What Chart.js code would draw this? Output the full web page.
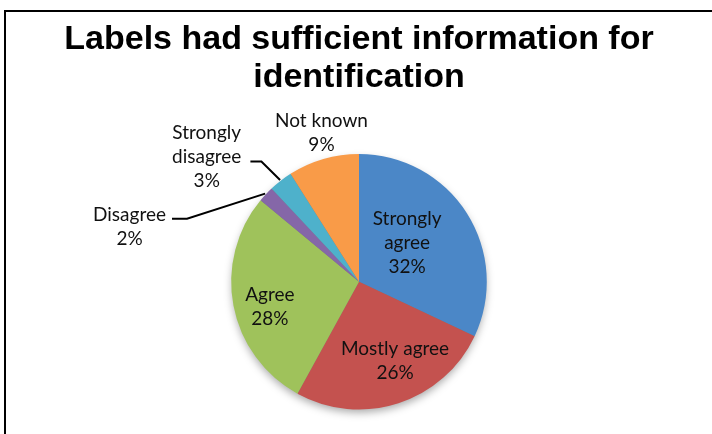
<!DOCTYPE html>
<html>
<head>
<meta charset="utf-8">
<script src="https://cdn.jsdelivr.net/npm/chart.js@4.4.1/dist/chart.umd.min.js"></script>
<style>
  html, body { margin: 0; padding: 0; background: #fff; }
  #wrap { width: 712px; height: 434px; position: relative; }
</style>
</head>
<body>
<div id="wrap"><canvas id="pieCanvas" width="712" height="434"></canvas></div>
<script>
// chart data
const titleLines = ['Labels had sufficient information for', 'identification'];
const categories = ['Strongly agree', 'Mostly agree', 'Agree', 'Disagree', 'Strongly disagree', 'Not known'];
const percents = [32, 26, 28, 2, 3, 9];
// how each label text is broken into lines
const labelLines = [
    ['Strongly', 'agree'],
    ['Mostly agree'],
    ['Agree'],
    ['Disagree'],
    ['Strongly', 'disagree'],
    ['Not known']
];

// styles: light (top) and dark (bottom) shade of each slice
const sliceLight = ['#4b87c7', '#c4524f', '#9fc25b', '#8567a8', '#4eb1cb', '#f99b48'];
const sliceDark  = ['#386ca6', '#a03a36', '#7e9a43', '#6a4f8c', '#3a90a8', '#d67c2b'];

// label placement: r = distance in radii, da = degrees off the slice middle
// lead = leader line (dy from label centre, gap, length)
const labelPlace = [
    { r: 0.485, da: -6.7 },
    { r: 0.68, da: -6.5 },
    { r: 0.725, da: -4.9 },
    { r: 1.847, da: -29.7, lead: { dy: -8, gap: 6, len: 15 } },
    { r: 1.54, da: -12.9, lead: { dy: 4.5, gap: 9, len: 11 } },
    { r: 1.205, da: 2.1 }
];

const labelFont = '19px Lato';
const lineGap = 24;

function sliceColor(ctx) {
    const i = ctx.dataIndex;
    const chart = ctx.chart;
    const meta = chart.getDatasetMeta(0);
    const arc = meta.data[i];
    if (!arc || !chart.chartArea) return sliceLight[i];
    const props = arc.getProps(['x', 'y', 'outerRadius'], true);
    if (!props.outerRadius) return sliceLight[i];
    const g = chart.ctx.createLinearGradient(0, props.y - props.outerRadius, 0, props.y + props.outerRadius);
    g.addColorStop(0, sliceLight[i]);
    g.addColorStop(1, sliceDark[i]);
    return g;
}

// frame lines of the original picture (left and top only)
const framePlugin = {
    id: 'frame',
    beforeDraw(chart) {
        const c = chart.ctx;
        c.save();
        c.fillStyle = '#fff';
        c.fillRect(0, 0, chart.width, chart.height);
        c.strokeStyle = '#000';
        c.lineWidth = 2;
        c.beginPath();
        c.moveTo(5, chart.height);
        c.lineTo(5, 11);
        c.lineTo(chart.width, 11);
        c.stroke();
        c.restore();
    }
};

// soft shadow under the pie
const shadowPlugin = {
    id: 'pieShadow',
    beforeDatasetsDraw(chart) {
        const arc = chart.getDatasetMeta(0).data[0];
        if (!arc) return;
        const p = arc.getProps(['x', 'y', 'outerRadius'], true);
        const c = chart.ctx;
        c.save();
        c.shadowColor = 'rgba(0,0,0,0.35)';
        c.shadowBlur = 8;
        c.shadowOffsetY = 4;
        c.fillStyle = '#777';
        c.beginPath();
        c.arc(p.x, p.y, p.outerRadius - 1, 0, Math.PI * 2);
        c.fill();
        c.restore();
    }
};

// data labels with leader lines
const labelPlugin = {
    id: 'sliceLabels',
    afterDatasetsDraw(chart) {
        const c = chart.ctx;
        const arcs = chart.getDatasetMeta(0).data;
        c.save();
        c.font = labelFont;
        c.fillStyle = '#111';
        c.textAlign = 'center';
        c.textBaseline = 'middle';
        arcs.forEach((arc, i) => {
            const p = arc.getProps(['x', 'y', 'startAngle', 'endAngle', 'outerRadius'], true);
            const mid = (p.startAngle + p.endAngle) / 2;
            const place = labelPlace[i];
            const a = mid + place.da * Math.PI / 180;
            const cx = p.x + Math.cos(a) * p.outerRadius * place.r;
            const cy = p.y + Math.sin(a) * p.outerRadius * place.r;
            const lines = labelLines[i].concat([percents[i] + '%']);
            const top = cy - (lines.length - 1) * lineGap / 2;
            let maxW = 0;
            lines.forEach((t, k) => {
                c.fillText(t, cx, top + k * lineGap);
                maxW = Math.max(maxW, c.measureText(t).width);
            });
            if (place.lead) {
                const sx = cx + maxW / 2 + place.lead.gap;
                const sy = cy + place.lead.dy;
                const ex = p.x + Math.cos(mid) * (p.outerRadius + 1);
                const ey = p.y + Math.sin(mid) * (p.outerRadius + 1);
                c.strokeStyle = '#000';
                c.lineWidth = 2;
                c.beginPath();
                c.moveTo(sx, sy);
                c.lineTo(sx + place.lead.len, sy);
                c.lineTo(ex, ey);
                c.stroke();
            }
        });
        c.restore();
    }
};

const ctx = document.getElementById('pieCanvas').getContext('2d');
const chart = new Chart(ctx, {
    type: 'pie',
    data: {
        labels: categories,
        datasets: [{
            data: percents,
            backgroundColor: sliceColor,
            borderWidth: 0,
            hoverOffset: 0,
            offset: 0
        }]
    },
    options: {
        responsive: false,
        animation: false,
        events: [],
        layout: {
            padding: { left: 6, top: 0, right: 0, bottom: 24.5 }
        },
        plugins: {
            legend: { display: false },
            tooltip: { enabled: false },
            title: {
                display: true,
                text: titleLines,
                color: '#000',
                font: { family: 'Liberation Sans', size: 34, weight: 'bold', lineHeight: 1.12 },
                padding: { top: 21, bottom: 56.8 }
            }
        }
    },
    plugins: [framePlugin, shadowPlugin, labelPlugin]
});
</script>
</body>
</html>
